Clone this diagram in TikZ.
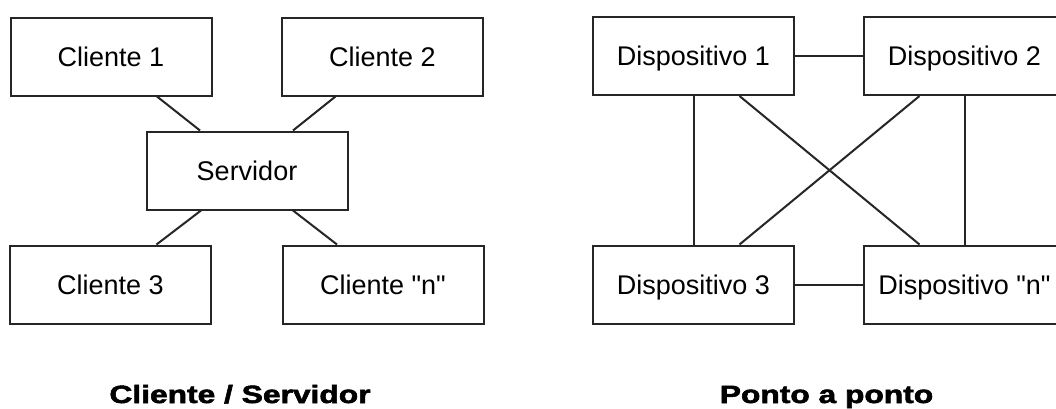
\documentclass[tikz,border=0pt]{standalone}
\usepackage{fontspec}
\setmainfont{Liberation Sans}
\newfontfamily\headfont[FakeBold=2]{Liberation Sans Bold}
\begin{document}
\begin{tikzpicture}[x=1pt,y=-1pt,
  box/.style={draw=black!85, line width=2pt, minimum width=201pt, minimum height=78pt,
    inner sep=0pt, text height=19.5pt, text depth=0pt, font=\fontsize{27}{32}\selectfont},
  link/.style={draw=black!85, line width=2pt},
  heading/.style={anchor=base, inner sep=0pt, font=\headfont\fontsize{25}{30}\selectfont}]
  \clip (0,0) rectangle (1056,408);
  \fill[white] (0,0) rectangle (1056,408);

  % Client / server layout
  \node[box] (c1)  at (111,56.5)   {Cliente 1};
  \node[box] (c2)  at (382.5,56.5) {Cliente 2};
  \node[box] (srv) at (247,170.5)  {Servidor};
  \node[box] (c3)  at (110.5,284.5) {Cliente 3};
  \node[box] (cn)  at (383,284.5)  {Cliente \textquotedbl n\textquotedbl};

  \draw[link] ([xshift=46pt]c1.south)  -- ([xshift=-47pt]srv.north);
  \draw[link] ([xshift=-47pt]c2.south) -- ([xshift=46pt]srv.north);
  \draw[link] ([xshift=-46pt]srv.south) -- ([xshift=46pt]c3.north);
  \draw[link] ([xshift=46pt]srv.south)  -- ([xshift=-46pt]cn.north);

  % Peer-to-peer layout
  \node[box] (d1) at (693.5,56)    {Dispositivo 1};
  \node[box] (d2) at (964.5,56)    {Dispositivo 2};
  \node[box] (d3) at (693.5,284.5) {Dispositivo 3};
  \node[box] (dn) at (964.5,284.5) {Dispositivo \textquotedbl n\textquotedbl};

  \draw[link] (d1.east) -- (d2.west);
  \draw[link] (d3.east) -- (dn.west);
  \draw[link] (d1.south) -- (d3.north);
  \draw[link] (d2.south) -- (dn.north);
  \draw[link] ([xshift=46pt]d1.south)  -- ([xshift=-45pt]dn.north);
  \draw[link] ([xshift=-45pt]d2.south) -- ([xshift=46pt]d3.north);

  % Captions
  \node[heading] (t1) at (240,403)   {\scalebox{1.27}[1]{Cliente / Servidor}};
  \node[heading] (t2) at (826.5,403) {\scalebox{1.27}[1]{Ponto a ponto}};
\end{tikzpicture}
\end{document}
